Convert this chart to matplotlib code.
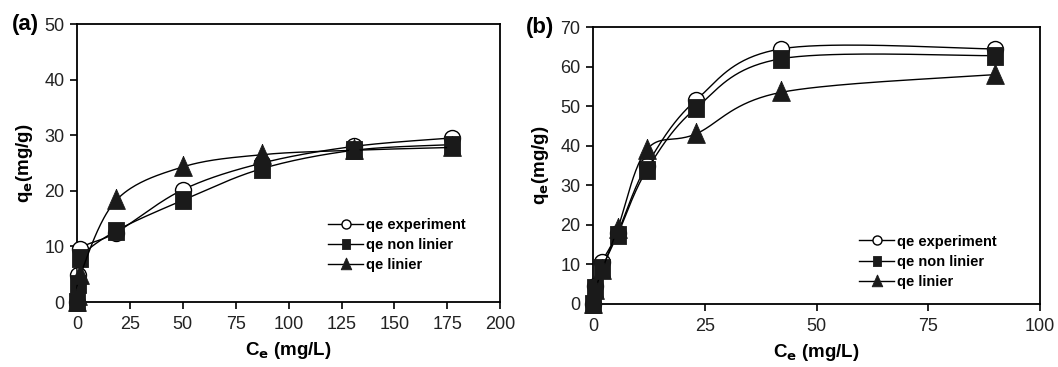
import numpy as np
import matplotlib
matplotlib.use("Agg")
import matplotlib.pyplot as plt
from matplotlib.lines import Line2D

plt.rcParams['font.family'] = ['Liberation Sans', 'DejaVu Sans']

# ---- data: panel (a)
a_ce = [0, 0.5, 1.5, 18.5, 50, 87.5, 131, 177]
a_exp = [0, 4.8, 9.5, 12.5, 20.2, 25.0, 28.0, 29.5]
a_non = [0, 3.2, 7.9, 12.8, 18.3, 24.0, 27.3, 28.3]
a_lin = [0, 1.0, 4.8, 18.3, 24.3, 26.5, 27.3, 27.8]

# ---- data: panel (b)
b_ce = [0, 0.5, 2, 5.5, 12, 23, 42, 90]
b_exp = [0, 4.5, 10.5, 18.0, 35.0, 51.5, 64.5, 64.5]
b_non = [0, 4.0, 9.0, 17.5, 33.8, 49.5, 62.0, 62.8]
b_lin = [0, 3.5, 8.5, 19.0, 39.0, 43.0, 53.5, 58.0]

labels = ['qe experiment', 'qe non linier', 'qe linier']
a_xticks = [0, 25, 50, 75, 100, 125, 150, 175, 200]
a_yticks = [0, 10, 20, 30, 40, 50]
b_xticks = [0, 25, 50, 75, 100]
b_yticks = [0, 10, 20, 30, 40, 50, 60, 70]


def smooth(x, y, n=40):
    """Excel-like smoothed line (Catmull-Rom Bezier through the points)."""
    P = np.column_stack([x, y]).astype(float)
    m = len(P)
    out = [P[0]]
    t = np.linspace(0, 1, n)[1:, None]
    for i in range(m - 1):
        p0 = P[i - 1] if i > 0 else P[i]
        p1 = P[i]
        p2 = P[i + 1]
        p3 = P[i + 2] if i + 2 < m else P[i + 1]
        c1 = p1 + (p2 - p0) / 6.0
        c2 = p2 - (p3 - p1) / 6.0
        seg = ((1 - t) ** 3) * p1 + 3 * ((1 - t) ** 2) * t * c1 + 3 * (1 - t) * t ** 2 * c2 + t ** 3 * p2
        out.extend(seg)
    out = np.array(out)
    return out[:, 0], out[:, 1]


tri = [(0, 1.25), (-1, -1), (1, -1), (0, 1.25)]
sq = [(-1, -1.12), (1, -1.12), (1, 1.12), (-1, 1.12), (-1, -1.12)]
styles = [
    dict(marker='o', mfc='white', mec='black', ms=11.5, mew=1.0),
    dict(marker=sq, mfc='#1a1a1a', mec='#1a1a1a', ms=12.5, mew=0.6),
    dict(marker=tri, mfc='#1a1a1a', mec='#1a1a1a', ms=16, mew=0.6),
]
leg_ms = [6.5, 7.0, 9.5]

fig = plt.figure(figsize=(10.58, 3.67), dpi=100)
ax1 = fig.add_axes([0.0728, 0.177, 0.4, 0.7576])
ax2 = fig.add_axes([0.5605, 0.1717, 0.4225, 0.7543])


def draw(ax, ce, series, xticks, yticks, xlim, ylim, leg_anchor, tag, tagx):
    for k, (ys, st) in enumerate(zip(series, styles)):
        sx, sy = smooth(ce, ys)
        ax.plot(sx, sy, color='black', lw=1.0, zorder=2 + k, clip_on=False)
        ax.plot(ce, ys, ls='none', zorder=3 + k, clip_on=False, **st)
    ax.set_xlim(*xlim)
    ax.set_ylim(*ylim)
    ax.set_xticks(xticks)
    ax.set_yticks(yticks)
    ax.tick_params(direction='out', length=5, width=1.2, labelsize=13,
                   colors='black', labelcolor='#222222')
    ax.tick_params(axis='x', pad=5)
    ax.tick_params(axis='y', pad=4)
    for s in ax.spines.values():
        s.set_linewidth(1.3)
    ax.set_xlabel('C$_\\mathbf{e}$ (mg/L)', fontsize=13.5, fontweight='bold', labelpad=5)
    ax.set_ylabel('q$_\\mathbf{e}$(mg/g)', fontsize=13.5, fontweight='bold', labelpad=7)
    handles = [Line2D([], [], color='black', lw=1.0, marker=st['marker'], mfc=st['mfc'],
                      mec=st['mec'], ms=lm, mew=st['mew']) for st, lm in zip(styles, leg_ms)]
    ax.legend(handles, labels, loc='upper left', bbox_to_anchor=leg_anchor, frameon=False,
              prop={'weight': 'bold', 'size': 10.5}, handlelength=2.4, handletextpad=0.2,
              labelspacing=0.42, borderaxespad=0)
    ax.text(tagx, 1.0, tag, transform=ax.transAxes, fontsize=16, fontweight='bold',
            ha='left', va='center')


draw(ax1, a_ce, [a_exp, a_non, a_lin], a_xticks, a_yticks, (0, 200), (0, 50),
     (0.58, 0.323), '(a)', -0.155)
draw(ax2, b_ce, [b_exp, b_non, b_lin], b_xticks, b_yticks, (0, 100), (0, 70),
     (0.583, 0.272), '(b)', -0.15)

fig.savefig('out.png', dpi=100)
